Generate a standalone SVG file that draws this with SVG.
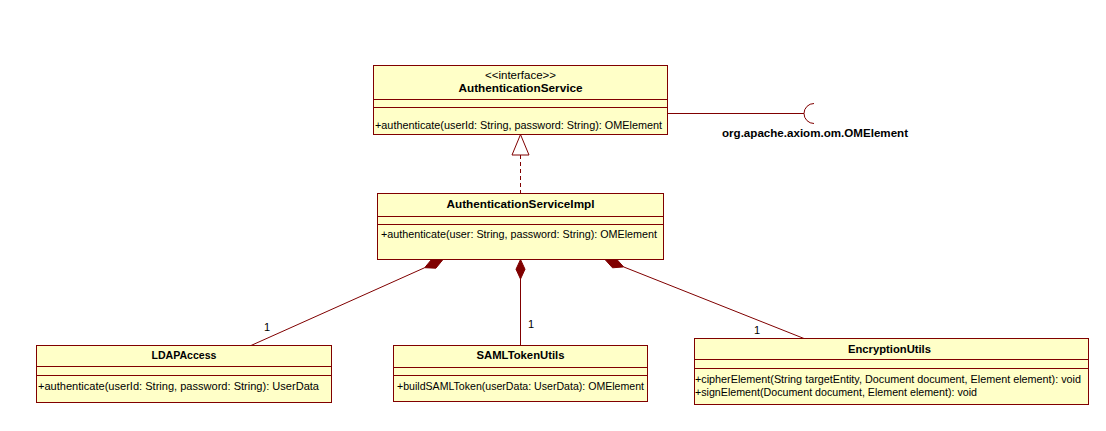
<svg xmlns="http://www.w3.org/2000/svg" width="1106" height="431" viewBox="0 0 1106 431">
<style>
.box{fill:#FFFFC8;stroke:#800000;stroke-width:1}
.div{stroke:#800000;stroke-width:1}
.ln{stroke:#800000;stroke-width:1;fill:none}
.dia{fill:#800000;stroke:#800000;stroke-width:1}
text{font-family:"Liberation Sans",Arial,sans-serif;font-size:11px;fill:#000}
.t{font-weight:bold;text-anchor:middle}
.c{text-anchor:middle}
</style>
<rect x="0" y="0" width="1106" height="431" fill="#FFFFFF"/>
<g id="connectors">
  <line class="ln" x1="520.5" y1="155" x2="520.5" y2="193" stroke-dasharray="4,3"/>
  <polygon points="520.5,134.5 512,155 529,155" fill="#FFFFFF" stroke="#800000" stroke-width="1"/>
  <line class="ln" x1="667.5" y1="113.5" x2="804" y2="113.5"/>
  <path class="ln" d="M814 103.5 A10 10 0 0 0 814 123.5"/>
  <text x="722" y="137" font-weight="bold" textLength="186" lengthAdjust="spacingAndGlyphs">org.apache.axiom.om.OMElement</text>
  <line class="ln" x1="251" y1="345.5" x2="424.7" y2="267.7"/>
  <polygon class="dia" points="443,259.5 431.9,259 424.7,267.7 435.9,268.2"/>
  <text x="267" y="331" class="c">1</text>
  <line class="ln" x1="520.5" y1="279" x2="520.5" y2="345.5"/>
  <polygon class="dia" points="520.5,259.5 516,269.25 520.5,279 525,269.25"/>
  <text x="531" y="328" class="c">1</text>
  <line class="ln" x1="623.6" y1="266.9" x2="804" y2="338.5"/>
  <polygon class="dia" points="605,259.5 616.1,258.6 623.6,266.9 612.5,267.8"/>
  <text x="757" y="334" class="c">1</text>
</g>
<g id="AuthenticationService">
  <rect class="box" x="373.5" y="65.5" width="294" height="69"/>
  <line class="div" x1="373.5" y1="99.5" x2="667.5" y2="99.5"/>
  <line class="div" x1="373.5" y1="107.5" x2="667.5" y2="107.5"/>
  <text x="520.5" y="79" class="c" textLength="71" lengthAdjust="spacingAndGlyphs">&lt;&lt;interface&gt;&gt;</text>
  <text x="520.5" y="92" class="t" textLength="124" lengthAdjust="spacingAndGlyphs">AuthenticationService</text>
  <text x="375" y="129" textLength="287" lengthAdjust="spacingAndGlyphs">+authenticate(userId: String, password: String): OMElement</text>
</g>
<g id="AuthenticationServiceImpl">
  <rect class="box" x="377.5" y="193.5" width="286" height="66"/>
  <line class="div" x1="377.5" y1="216.5" x2="663.5" y2="216.5"/>
  <line class="div" x1="377.5" y1="224.5" x2="663.5" y2="224.5"/>
  <text x="520.5" y="208" class="t" textLength="148" lengthAdjust="spacingAndGlyphs">AuthenticationServiceImpl</text>
  <text x="381" y="238" textLength="276" lengthAdjust="spacingAndGlyphs">+authenticate(user: String, password: String): OMElement</text>
</g>
<g id="LDAPAccess">
  <rect class="box" x="36.5" y="345.5" width="295" height="57"/>
  <line class="div" x1="36.5" y1="366.5" x2="331.5" y2="366.5"/>
  <line class="div" x1="36.5" y1="375.5" x2="331.5" y2="375.5"/>
  <text x="184" y="359" class="t" textLength="65" lengthAdjust="spacingAndGlyphs">LDAPAccess</text>
  <text x="38" y="390" textLength="281" lengthAdjust="spacingAndGlyphs">+authenticate(userId: String, password: String): UserData</text>
</g>
<g id="SAMLTokenUtils">
  <rect class="box" x="393.5" y="345.5" width="254" height="56"/>
  <line class="div" x1="393.5" y1="367.5" x2="647.5" y2="367.5"/>
  <line class="div" x1="393.5" y1="375.5" x2="647.5" y2="375.5"/>
  <text x="520.5" y="359" class="t" textLength="88" lengthAdjust="spacingAndGlyphs">SAMLTokenUtils</text>
  <text x="397" y="390" textLength="247" lengthAdjust="spacingAndGlyphs">+buildSAMLToken(userData: UserData): OMElement</text>
</g>
<g id="EncryptionUtils">
  <rect class="box" x="694.5" y="338.5" width="394" height="66"/>
  <line class="div" x1="694.5" y1="359.5" x2="1088.5" y2="359.5"/>
  <line class="div" x1="694.5" y1="368.5" x2="1088.5" y2="368.5"/>
  <text x="889.5" y="353" class="t" textLength="83" lengthAdjust="spacingAndGlyphs">EncryptionUtils</text>
  <text x="695" y="383" textLength="386" lengthAdjust="spacingAndGlyphs">+cipherElement(String targetEntity, Document document, Element element): void</text>
  <text x="695" y="396" textLength="282" lengthAdjust="spacingAndGlyphs">+signElement(Document document, Element element): void</text>
</g>
</svg>
